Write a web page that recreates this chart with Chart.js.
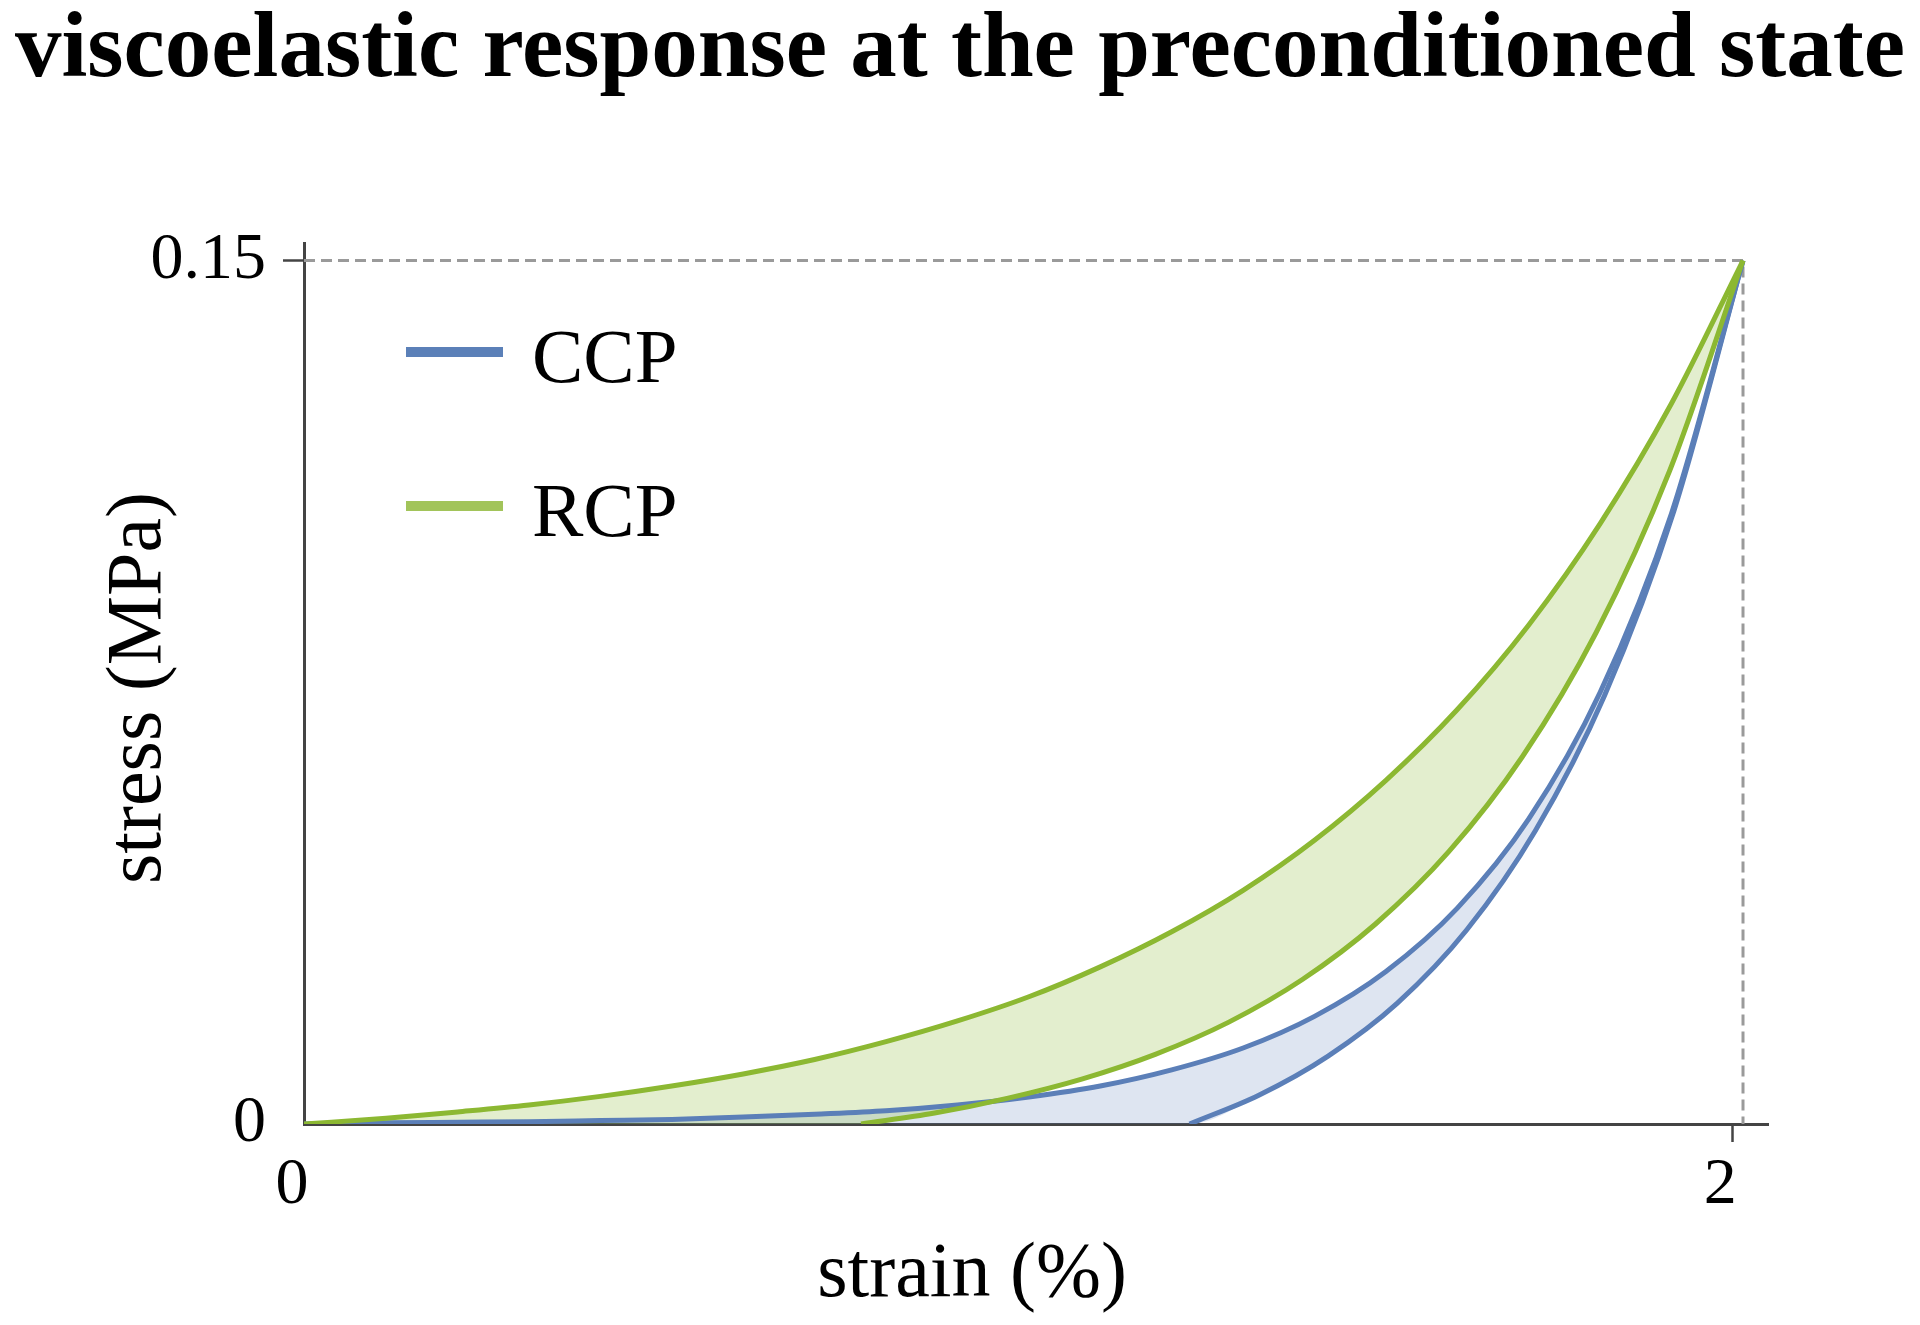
<!DOCTYPE html>
<html>
<head>
<meta charset="utf-8">
<title>viscoelastic response at the preconditioned state</title>
<script src="https://cdn.jsdelivr.net/npm/chart.js@4.4.1/dist/chart.umd.min.js"></script>
<style>
	html, body { margin: 0; padding: 0; background: #fff; }
	#wrap { width: 1920px; height: 1325px; position: relative; }
</style>
</head>
<body>
<div id="wrap"><canvas id="myChart"></canvas></div>
<script>
const titleText = 'viscoelastic response at the preconditioned state'
const xTitle = 'strain (%)'
const yTitle = 'stress (MPa)'
const xTicks = [0, 2]
const yTicks = [0, 0.15]

// loading branches (both loops share the strain grid)
const loadStrain = [0, 0.115, 0.215, 0.315, 0.415, 0.515, 0.615, 0.715, 0.815, 0.915, 1.015, 1.115, 1.215, 1.315, 1.415, 1.515, 1.615, 1.715, 1.815, 1.915, 2.015]
const ccpLoadStress = [0, 0.0002, 0.0003, 0.0004, 0.0006, 0.0008, 0.0012, 0.0017, 0.0023, 0.0033, 0.0047, 0.0066, 0.0094, 0.0132, 0.0187, 0.0265, 0.0375, 0.053, 0.075, 0.1061, 0.15]
const rcpLoadStress = [0, 0.001, 0.0021, 0.0033, 0.0048, 0.0066, 0.0087, 0.0112, 0.0143, 0.0179, 0.0221, 0.0273, 0.0334, 0.0406, 0.0493, 0.0597, 0.072, 0.0867, 0.1043, 0.1252, 0.15]

// unloading branches
const ccpUnloadStrain = [1.24, 1.337, 1.434, 1.531, 1.628, 1.724, 1.821, 1.918, 2.015]
const ccpUnloadStress = [0, 0.005, 0.0118, 0.021, 0.0337, 0.0509, 0.0744, 0.1064, 0.15]
const rcpUnloadStrain = [0.78, 0.883, 0.986, 1.089, 1.192, 1.295, 1.398, 1.5, 1.603, 1.706, 1.809, 1.912, 2.015]
const rcpUnloadStress = [0, 0.0019, 0.0045, 0.0078, 0.0121, 0.0177, 0.0251, 0.0347, 0.0473, 0.0638, 0.0853, 0.1134, 0.15]

// dashed guide to the peak
const guideStrain = [0, 2.015, 2.015]
const guideStress = [0.15, 0.15, 0]

const serif = '"Liberation Serif", "Times New Roman", serif'
const blue = '#5b7fb8'
const green = '#8cb832'
const legendItems = [
	{ label: 'CCP', color: '#5b80b8' },
	{ label: 'RCP', color: '#a2c45a' },
]

const toPoints = (xs, ys) => xs.map((x, i) => ({ x, y: ys[i] }))

const curve = (label, xs, ys, color, extra) => ({
	label,
	data: toPoints(xs, ys),
	borderColor: color,
	borderWidth: 5,
	pointRadius: 0,
	cubicInterpolationMode: 'monotone',
	fill: false,
	...extra,
})

// unloading branch continued along the strain axis, only used as fill edge
const fillEdge = (xs, ys) => ({
	label: 'edge',
	data: toPoints([0, ...xs], [0, ...ys]),
	borderWidth: 0,
	borderColor: 'rgba(0,0,0,0)',
	pointRadius: 0,
	cubicInterpolationMode: 'monotone',
	fill: false,
	order: 4,
})

const legendPlugin = {
	id: 'sideLegend',
	afterDraw(chart) {
		const ctx = chart.ctx
		ctx.save()
		legendItems.forEach((item, i) => {
			const y = 352 + i * 154
			ctx.strokeStyle = item.color
			ctx.lineWidth = 10
			ctx.beginPath()
			ctx.moveTo(406, y)
			ctx.lineTo(503, y)
			ctx.stroke()
			ctx.fillStyle = '#000'
			ctx.font = '77px ' + serif
			ctx.textAlign = 'left'
			ctx.textBaseline = 'alphabetic'
			ctx.fillText(item.label, 532, y + 30)
		})
		ctx.restore()
	},
}

const axisTitlePlugin = {
	id: 'axisTitles',
	afterDraw(chart) {
		const ctx = chart.ctx
		ctx.save()
		ctx.fillStyle = '#000'
		ctx.font = '78px ' + serif
		ctx.textAlign = 'center'
		ctx.textBaseline = 'alphabetic'
		ctx.fillText(xTitle, 972, 1296)
		ctx.translate(160, 688)
		ctx.rotate(-Math.PI / 2)
		ctx.fillText(yTitle, 0, 0)
		ctx.restore()
	},
}

const hideZeroTick = (c) => (c.tick && c.tick.value === 0 ? 'rgba(0,0,0,0)' : '#444')

new Chart(document.getElementById('myChart'), {
	type: 'line',
	data: {
		datasets: [
			curve('CCP', loadStrain, ccpLoadStress, blue, {
				fill: { target: 2 },
				backgroundColor: 'rgba(91,127,184,0.2)',
				order: 2,
			}),
			curve('CCP', ccpUnloadStrain, ccpUnloadStress, blue, { order: 2 }),
			fillEdge(ccpUnloadStrain, ccpUnloadStress),
			curve('RCP', loadStrain, rcpLoadStress, green, {
				fill: { target: 5 },
				backgroundColor: 'rgba(140,184,50,0.24)',
				order: 1,
			}),
			curve('RCP', rcpUnloadStrain, rcpUnloadStress, green, { order: 1 }),
			fillEdge(rcpUnloadStrain, rcpUnloadStress),
			{
				label: 'guide',
				data: toPoints(guideStrain, guideStress),
				borderColor: '#9a9a9a',
				borderWidth: 3,
				borderDash: [11, 6],
				pointRadius: 0,
				tension: 0,
				fill: false,
				order: 3,
			},
		],
	},
	options: {
		responsive: true,
		maintainAspectRatio: false,
		animation: false,
		layout: { padding: 0 },
		scales: {
			x: {
				type: 'linear',
				min: 0,
				max: 2.05,
				afterBuildTicks: (s) => { s.ticks = xTicks.map((v) => ({ value: v })) },
				afterFit: (s) => { s.height = 201 },
				border: { display: true, color: '#444', width: 3 },
				grid: {
					drawOnChartArea: false,
					drawTicks: true,
					tickLength: 18,
					tickWidth: 2.5,
					color: hideZeroTick,
				},
				ticks: {
					color: '#000',
					font: { family: serif, size: 66 },
					padding: 4,
					labelOffset: -12,
					maxRotation: 0,
					callback: (v) => String(v),
				},
			},
			y: {
				min: 0,
				max: 0.153,
				afterBuildTicks: (s) => { s.ticks = yTicks.map((v) => ({ value: v })) },
				afterFit: (s) => { s.width = 304 },
				border: { display: true, color: '#444', width: 3 },
				grid: {
					drawOnChartArea: false,
					drawTicks: true,
					tickLength: 21,
					tickWidth: 2.5,
					color: hideZeroTick,
				},
				ticks: {
					color: '#000',
					font: { family: serif, size: 66 },
					padding: 17,
					callback: (v) => String(v),
				},
			},
			y2: {
				position: 'right',
				display: true,
				grid: { display: false },
				border: { display: false },
				ticks: { display: false },
				afterFit: (s) => { s.width = 152 },
			},
		},
		plugins: {
			legend: { display: false },
			tooltip: { enabled: false },
			filler: { drawTime: 'beforeDatasetsDraw' },
			title: {
				display: true,
				text: titleText,
				color: '#000',
				font: { family: serif, size: 93, weight: 'bold', lineHeight: 0.96 },
				padding: { top: 7, bottom: 147 },
			},
		},
	},
	plugins: [legendPlugin, axisTitlePlugin],
})
</script>
</body>
</html>
